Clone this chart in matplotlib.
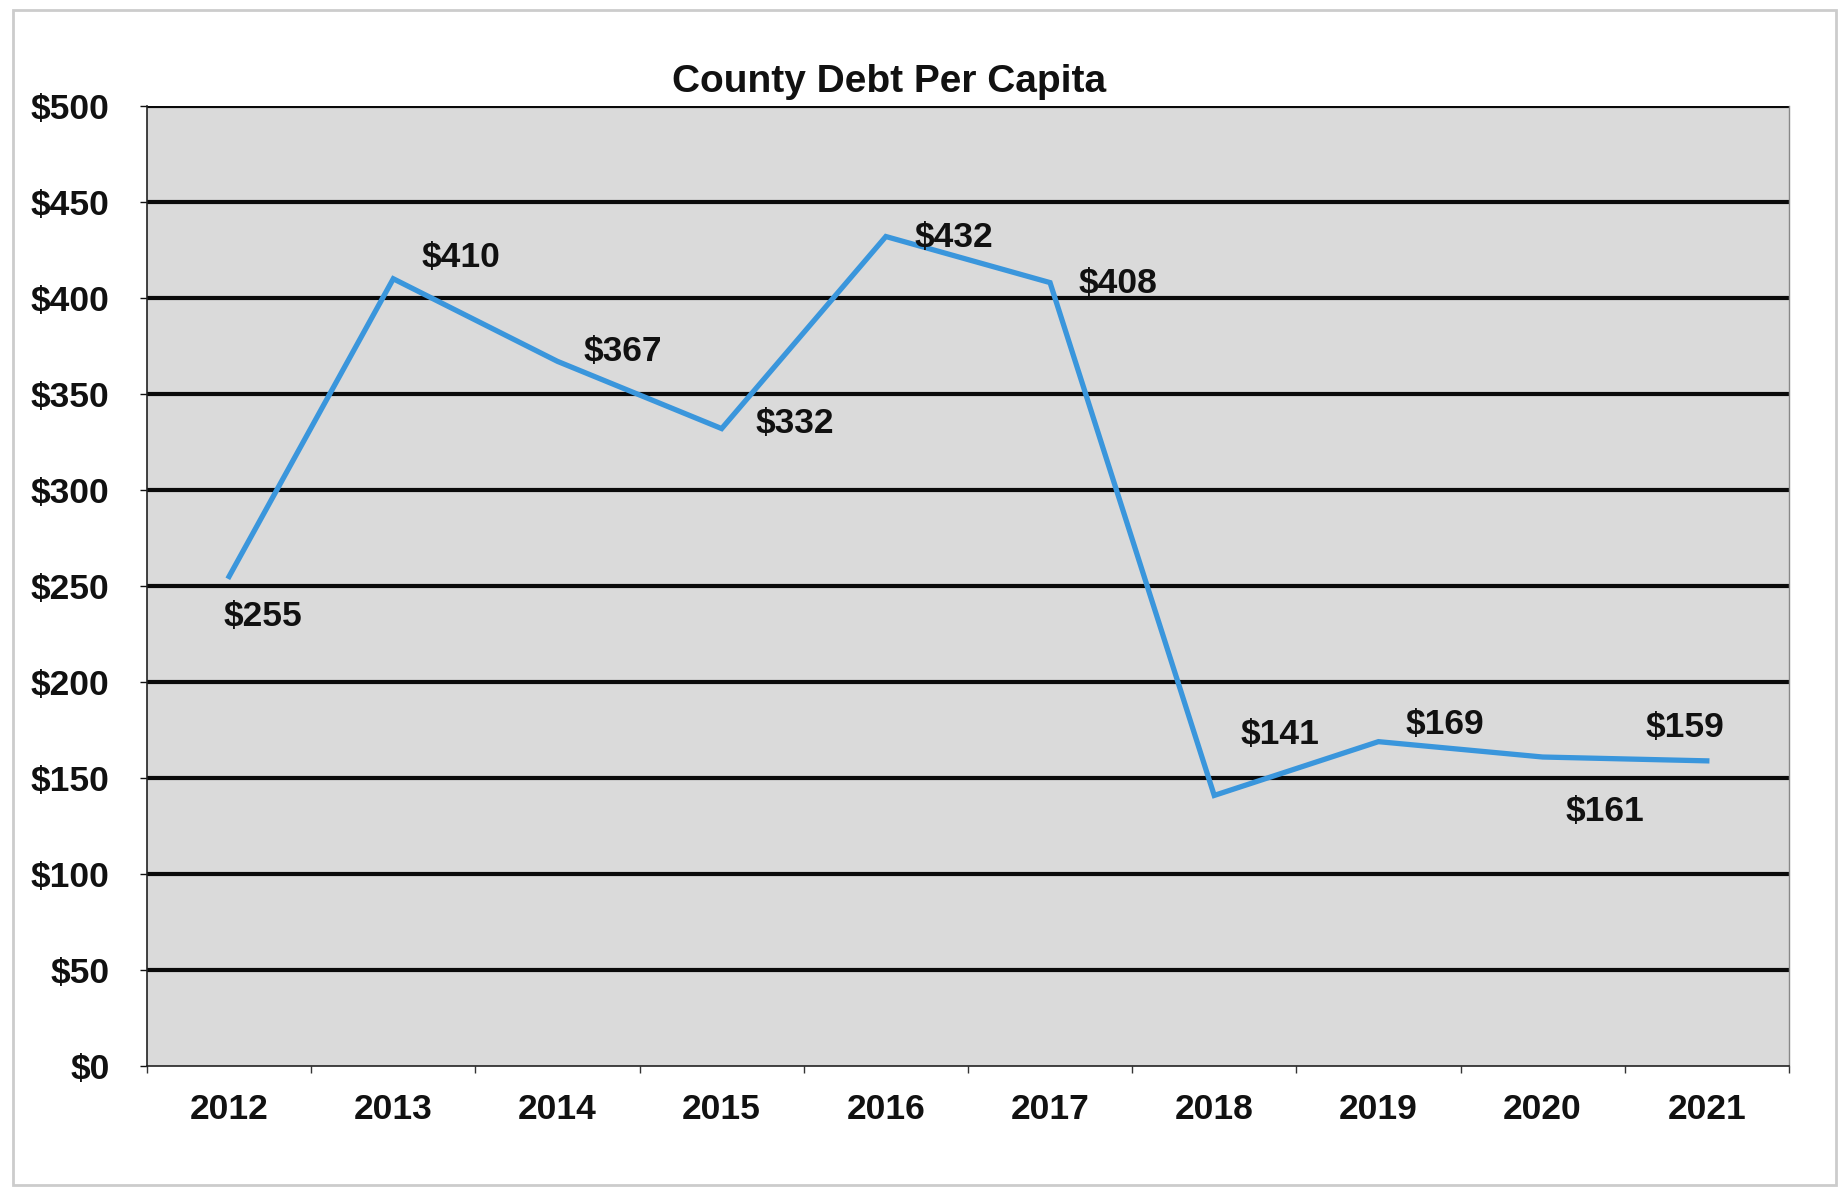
import matplotlib.pyplot as plt
from matplotlib.patches import Rectangle

# chart data
years = ["2012", "2013", "2014", "2015", "2016", "2017", "2018", "2019", "2020", "2021"]
debt_per_capita = [255, 410, 367, 332, 432, 408, 141, 169, 161, 159]
y_ticks = [0, 50, 100, 150, 200, 250, 300, 350, 400, 450, 500]

# label offsets in points (dx, dy)
label_offsets = [(24, -29), (49, 15), (47, 7), (53, 4), (49, -1),
                 (49, -1), (47, 44), (48, 12), (45, -39), (-16, 24)]

plt.rcParams['font.family'] = ['Liberation Sans', 'DejaVu Sans']

fig = plt.figure(figsize=(18.49, 11.9), dpi=100)
ax = fig.add_axes([0.0795, 0.104, 0.888, 0.807])

# outer light frame
fig.patches.append(Rectangle((0.007, 0.004), 0.986, 0.988, transform=fig.transFigure,
                             fill=False, edgecolor='#cccccc', linewidth=2))

ax.set_facecolor('#dadada')
x = list(range(len(years)))
ax.plot(x, debt_per_capita, color='#3a96dc', linewidth=3.8, zorder=3, solid_joinstyle='miter')

for xi, val, (dx, dy) in zip(x, debt_per_capita, label_offsets):
    ax.annotate(f"${val}", (xi, val), xytext=(dx, dy), textcoords='offset points',
                ha='center', va='center', fontsize=25.5, fontweight='bold', color='#111111',
                zorder=4)

ax.set_xlim(-0.5, len(years) - 0.5)
ax.set_ylim(0, 500)
ax.set_yticks(y_ticks)
ax.set_yticklabels([f"${v}" for v in y_ticks])
ax.set_xticks(x)
ax.set_xticklabels(years)
ax.set_xticks([i - 0.5 for i in range(len(years) + 1)], minor=True)

for v in y_ticks[1:]:
    ax.axhline(v, color='#0a0a0a', linewidth=3.0, zorder=1)

ax.tick_params(axis='y', length=5, width=1, pad=22, labelsize=25.5, colors='#111111')
ax.tick_params(axis='x', which='major', length=0, pad=19, labelsize=25.5, colors='#111111')
ax.tick_params(axis='x', which='minor', length=5, width=1, colors='#333333')
for lab in ax.get_xticklabels() + ax.get_yticklabels():
    lab.set_fontweight('bold')

for side in ['left', 'bottom']:
    ax.spines[side].set_color('#222222')
    ax.spines[side].set_linewidth(1.2)
ax.spines['top'].set_visible(False)
ax.spines['right'].set_color('#888888')
ax.spines['right'].set_linewidth(1)

fig.text(0.481, 0.931, "County Debt Per Capita", ha='center', va='center',
         fontsize=28, fontweight='bold', color='#111111')

fig.savefig("out.png", dpi=100, facecolor='white')
